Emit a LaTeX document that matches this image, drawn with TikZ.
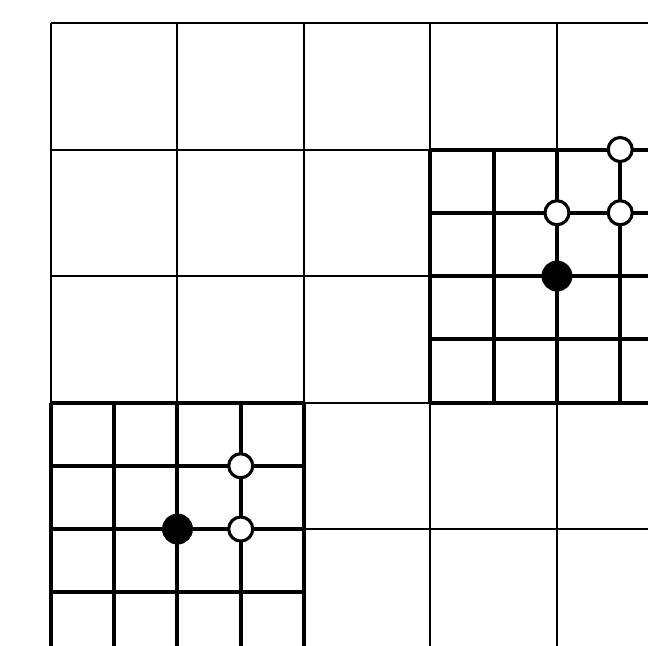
\documentclass[tikz,border=0pt]{standalone}
\usepackage{tikz}
\tikzset{
  coarseline/.style={line width=0.9pt, black},
  fineline/.style={line width=1.8pt, black},
  opendot/.style={circle, draw, line width=1.4pt, fill=white,
    minimum size=0.38cm, inner sep=0pt},
  fulldot/.style={circle, draw, line width=1.4pt, fill=black,
    minimum size=0.44cm, inner sep=0pt},
}
\begin{document}
\begin{tikzpicture}
  \useasboundingbox (-0.806,0.364) rectangle (9.439,-9.849);
  \clip (-0.806,0.364) rectangle (9.439,-9.849);

  % coarse grid
  \foreach \x in {0,2,...,8}
    \draw[coarseline] (\x,0) -- (\x,-10);
  \foreach \y in {0,-2,...,-8}
    \draw[coarseline] (0,\y) -- (10,\y);

  % refined block, upper right
  \foreach \x in {6,7,8,9}
    \draw[fineline] (\x,-2) -- (\x,-6);
  \foreach \y in {-2,-3,...,-6}
    \draw[fineline] (6,\y) -- (10,\y);

  % refined block, lower left
  \foreach \x in {0,1,2,3,4}
    \draw[fineline] (\x,-6) -- (\x,-10);
  \foreach \y in {-6,-7,-8,-9}
    \draw[fineline] (0,\y) -- (4,\y);

  % nodes
  \node[opendot] (ua) at (9,-2) {};
  \node[opendot] (ub) at (8,-3) {};
  \node[opendot] (uc) at (9,-3) {};
  \node[fulldot] (ud) at (8,-4) {};

  \node[opendot] (la) at (3,-7) {};
  \node[opendot] (lb) at (3,-8) {};
  \node[fulldot] (lc) at (2,-8) {};
\end{tikzpicture}
\end{document}
